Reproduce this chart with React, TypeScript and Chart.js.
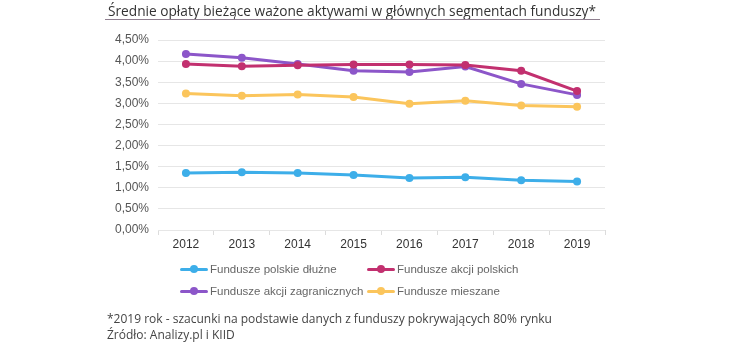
import React, { useEffect, useRef } from "react";
import { Chart, registerables } from "chart.js";

Chart.register(...registerables);

const years = ["2012", "2013", "2014", "2015", "2016", "2017", "2018", "2019"];
const polskieDluzne = [1.35, 1.37, 1.35, 1.3, 1.23, 1.25, 1.18, 1.15];
const akcjiPolskich = [3.93, 3.88, 3.9, 3.92, 3.92, 3.91, 3.77, 3.29];
const akcjiZagranicznych = [4.17, 4.08, 3.93, 3.77, 3.74, 3.87, 3.46, 3.2];
const mieszane = [3.23, 3.18, 3.21, 3.15, 2.99, 3.06, 2.95, 2.92];

const seriesNames = [
  "Fundusze polskie dłużne",
  "Fundusze akcji polskich",
  "Fundusze akcji zagranicznych",
  "Fundusze mieszane",
];
const seriesColors = ["#3daee9", "#c2306f", "#8c56c9", "#fbc55c"];

const titleText = "Średnie opłaty bieżące ważone aktywami w głównych segmentach funduszy*";
const noteText = "*2019 rok - szacunki na podstawie danych z funduszy pokrywających 80% rynku";
const sourceText = "Źródło: Analizy.pl i KIID";

const yMin = 0;
const yMax = 4.5;
const yStep = 0.5;

function LegendItem({ name, color, left, top }: { name: string; color: string; left: number; top: number }) {
  return (
    <div
      style={{
        position: "absolute",
        left,
        top,
        height: 16,
        display: "flex",
        alignItems: "center",
        whiteSpace: "nowrap",
      }}
    >
      <div style={{ position: "relative", width: 28, height: 3, background: color, borderRadius: 2, marginRight: 2 }}>
        <div
          style={{
            position: "absolute",
            left: 10,
            top: -2.5,
            width: 8,
            height: 8,
            borderRadius: 4,
            background: color,
          }}
        />
      </div>
      <span style={{ fontFamily: "'Liberation Sans', Arial, sans-serif", fontSize: 11.5, color: "#666" }}>{name}</span>
    </div>
  );
}

export default function App() {
  const canvasRef = useRef<HTMLCanvasElement | null>(null);

  useEffect(() => {
    const canvas = canvasRef.current;
    if (!canvas) return;
    const data = [polskieDluzne, akcjiPolskich, akcjiZagranicznych, mieszane];
    const chart = new Chart(canvas, {
      type: "line",
      data: {
        labels: years,
        datasets: data.map((d, i) => ({
          label: seriesNames[i],
          data: d,
          borderColor: seriesColors[i],
          backgroundColor: seriesColors[i],
          pointBackgroundColor: seriesColors[i],
          pointBorderColor: seriesColors[i],
          borderWidth: 3,
          pointRadius: 4,
          pointBorderWidth: 0,
          tension: 0,
          fill: false,
        })),
      },
      options: {
        responsive: false,
        animation: false,
        layout: { padding: { left: 0, right: 145, top: 40, bottom: 0 } },
        plugins: {
          legend: { display: false },
          title: { display: false },
          tooltip: { enabled: false },
        },
        scales: {
          x: {
            type: "category",
            offset: true,
            grid: {
              display: true,
              offset: true,
              drawOnChartArea: false,
              drawTicks: true,
              tickLength: 5,
              color: "#dcdcdc",
            },
            border: { display: false },
            ticks: {
              padding: 2,
              color: "#333",
              font: { family: "'Liberation Sans', Arial, sans-serif", size: 12 },
            },
            afterFit: (scale: any) => {
              scale.height = 119;
            },
          },
          y: {
            min: yMin,
            max: yMax,
            grid: { color: "#e6e6e6", drawTicks: false },
            border: { display: false },
            ticks: {
              stepSize: yStep,
              padding: 9,
              color: "#555",
              font: { family: "'Liberation Sans', Arial, sans-serif", size: 12 },
              callback: (v: any) => Number(v).toFixed(2).replace(".", ",") + "%",
            },
            afterFit: (scale: any) => {
              scale.width = 158;
            },
          },
        },
      },
    });
    return () => chart.destroy();
  }, []);

  return (
    <div style={{ position: "fixed", left: 0, top: 0, width: 750, height: 349, background: "#fff", overflow: "hidden" }}>
      <canvas ref={canvasRef} width={750} height={349} style={{ position: "absolute", left: 0, top: 0, width: 750, height: 349 }} />
      <div
        style={{
          position: "absolute",
          left: 108,
          top: 1,
          fontFamily: "'Open Sans', sans-serif",
          fontSize: 13.7,
          lineHeight: "20px",
          color: "#333",
          whiteSpace: "nowrap",
        }}
      >
        {titleText}
      </div>
      <div style={{ position: "absolute", left: 105, top: 19, width: 495, height: 1, background: "#8f7f8f" }} />
      <LegendItem name={seriesNames[0]} color={seriesColors[0]} left={180} top={261} />
      <LegendItem name={seriesNames[1]} color={seriesColors[1]} left={367} top={261} />
      <LegendItem name={seriesNames[2]} color={seriesColors[2]} left={180} top={283} />
      <LegendItem name={seriesNames[3]} color={seriesColors[3]} left={367} top={283} />
      <div
        style={{
          position: "absolute",
          left: 107,
          top: 311,
          fontFamily: "'Open Sans', sans-serif",
          fontSize: 12,
          lineHeight: "16px",
          color: "#444",
          whiteSpace: "nowrap",
        }}
      >
        {noteText}
      </div>
      <div
        style={{
          position: "absolute",
          left: 107,
          top: 327,
          fontFamily: "'Open Sans', sans-serif",
          fontSize: 12,
          lineHeight: "16px",
          color: "#444",
          whiteSpace: "nowrap",
        }}
      >
        {sourceText}
      </div>
    </div>
  );
}
